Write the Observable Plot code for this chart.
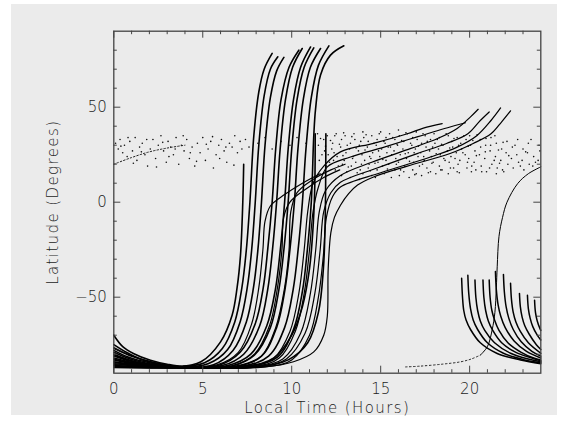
<!DOCTYPE html>
<html><head><meta charset="utf-8">
<script src="https://cdn.jsdelivr.net/npm/d3@7"></script>
<script src="https://cdn.jsdelivr.net/npm/@observablehq/plot@0.6"></script>
<style>
body{margin:0;background:#fff;width:565px;height:425px;overflow:hidden;position:relative;font-family:"DejaVu Sans",sans-serif}
#bg{position:absolute;left:11px;top:4px;width:546px;height:411px;background:#ebebeb}
#chart{position:absolute;left:0;top:0}
#chart text{font-weight:200}
</style></head><body><div id="bg"></div><div id="chart"></div>
<script>
// ---- tick values ----
const xLabelTicks = [0, 5, 10, 15, 20];
const xMinorTicks = [1,2,3,4,6,7,8,9,11,12,13,14,16,17,18,19,21,22,23];
const yLabelTicks = [-50, 0, 50];
const yMinorTicks = [-80,-70,-60,-40,-30,-20,-10,10,20,30,40,60,70,80];

// ---- trajectories that rise to high northern latitude ([local time h, latitude deg]) ----
const riseCurves = [
  [[0,-84],[1.5,-86],[3.5,-86.8],[4.9,-84],[6.0,-73.5],[6.65,-59.5],[6.93,-45],[7.12,-28],[7.25,0],[7.3,20]],
  [[0,-70],[0.5,-76],[1.1,-79.6],[2.06,-83.2],[3.0,-85.3],[3.9,-86.3],[5.1,-84.5],[6.1,-77],[6.8,-63],[7.2,-45],[7.45,-25],[7.65,0],[7.87,35],[8.15,58],[8.45,70],[8.9,78.3]],
  [[0,-80],[1,-83.5],[2,-85.5],[3.5,-86.8],[5.3,-85],[6.4,-77.5],[7.1,-63],[7.5,-45],[7.75,-25],[7.95,0],[8.15,30],[8.45,56],[8.8,70],[9.22,76.5]],
  [[0,-86],[1.5,-86.5],[3.5,-87],[5.6,-85.5],[6.7,-78],[7.45,-63],[7.85,-45],[8.1,-25],[8.3,0],[8.5,30],[8.8,55],[9.15,69],[9.56,76.2]],
  [[0,-75],[0.7,-79],[1.5,-82.5],[2.5,-85],[3.5,-86.5],[5.9,-85.8],[7.1,-79],[7.95,-64],[8.4,-45],[8.65,-25],[8.9,0],[9.1,28],[9.4,54],[9.85,71],[10.4,80]],
  [[0,-83],[1.5,-85.5],[3.5,-86.8],[6.1,-86],[7.3,-80],[8.2,-65],[8.65,-46],[8.92,-25],[9.15,0],[9.35,28],[9.65,54],[10.05,71],[10.59,80.9]],
  [[0,-81],[1.3,-84.5],[3.5,-86.7],[6.4,-86],[7.7,-80],[8.6,-65],[9.08,-46],[9.36,-25],[9.6,0],[9.8,28],[10.1,54],[10.5,71],[11.06,81.7]],
  [[0,-87],[3.5,-87.2],[6.6,-86.3],[7.9,-80.5],[8.8,-66],[9.28,-46],[9.56,-25],[9.8,0],[10.0,28],[10.3,54],[10.7,71],[11.24,81.2]],
  [[0,-78],[0.8,-81.5],[2,-84.5],[3.5,-86.6],[6.9,-86.2],[8.3,-81],[9.15,-66],[9.62,-46],[9.9,-25],[10.15,0],[10.35,28],[10.65,54],[11.05,71],[11.62,80.9]],
  [[0,-85],[2,-86.3],[3.5,-87],[7.2,-86.4],[8.7,-81],[9.6,-66],[10.08,-46],[10.36,-25],[10.6,0],[10.8,28],[11.1,55],[11.5,72],[12.09,82.3]],
  [[0,-82],[1.5,-85.2],[3.5,-86.9],[7.6,-86.4],[9.2,-81.5],[10.1,-67],[10.6,-47],[10.88,-25],[11.1,0],[11.24,35],[11.34,49],[11.62,67],[12.18,77.4],[12.93,82.3]],
  [[0,-79],[1,-82.8],[2.2,-85.3],[3.5,-86.6],[7.4,-86.4],[9,-82],[10.0,-70],[10.6,-55],[11.0,-35],[11.22,-10],[11.3,10],[11.32,36]],
  [[0,-86.5],[3.5,-87.2],[8.1,-86.6],[9.8,-83],[10.9,-74],[11.5,-58],[11.78,-35],[11.88,-10],[11.92,36]]
];

// ---- trajectories that turn eastward at low latitude ----
const bendCurves = [
  [[0,-86.8],[3.5,-87.1],[5.8,-85.6],[7.0,-79],[7.75,-64],[8.15,-45],[8.38,-25],[8.5,-10],[8.8,-2],[9.6,4],[10.6,10],[11.6,15]],
  [[0,-77],[1.1,-81.5],[2.4,-84.8],[3.5,-86.5],[6.7,-86],[7.9,-80],[8.75,-65],[9.2,-45],[9.45,-25],[9.55,-8],[9.9,0],[10.8,7],[11.8,13],[12.7,17]],
  [[0,-84.5],[3.5,-86.9],[7.0,-86.3],[8.3,-81],[9.1,-66],[9.6,-45],[9.85,-25],[9.95,-5],[10.3,5],[11.2,12],[12.2,17],[13,20]],
  [[0,-84.2],[3.5,-86.9],[7.7,-86.5],[9.0,-82],[9.9,-68],[10.4,-48],[10.7,-25],[10.9,-5],[11.2,10],[11.8,19],[12.74,26.5],[14.6,31],[16.5,36],[17.4,39],[18.46,41.4]],
  [[0,-80.5],[1.4,-84.5],[3.5,-86.7],[7.9,-86.5],[9.3,-82],[10.2,-68],[10.7,-48],[11.0,-25],[11.2,-5],[11.5,8],[12.0,18.6],[13.3,23.8],[15.2,29],[17.05,34.4],[18.9,39.6],[19.77,41.8]],
  [[0,-85.5],[3.5,-87],[8.0,-86.6],[9.5,-82.5],[10.5,-69],[11.05,-48],[11.35,-25],[11.55,-5],[11.9,6],[12.74,14],[14.5,21],[16.7,28.3],[18.2,33.5],[19.3,38.8],[20.05,44.9],[20.48,48.9]],
  [[0,-76.5],[0.9,-80.5],[2.2,-84.3],[3.5,-86.4],[8.2,-86.6],[9.7,-82.5],[10.75,-69],[11.3,-48],[11.6,-25],[11.8,-5],[12.2,5],[12.74,10.5],[14.8,18],[17.05,25.6],[18.7,30.9],[19.9,36],[20.6,43],[21.1,47.5]],
  [[0,-86.2],[3.5,-87.1],[8.5,-86.7],[10.0,-83],[11.0,-70],[11.5,-50],[11.78,-28],[11.95,-8],[12.3,3],[12.74,8],[15,15.5],[17.8,23.8],[19.3,29],[20.4,35],[21.2,43],[21.74,49.6]],
  [[0,-82.6],[1.5,-85.4],[3.5,-86.8],[8.6,-86.6],[10.1,-84],[11.24,-78.8],[11.8,-70],[12.0,-60],[12.05,-35],[12.2,-16],[12.4,-8],[12.74,-1.6],[13.2,4.5],[13.7,9],[14.6,13.3],[16.5,19],[18.9,25.6],[20.2,30.9],[21.2,36],[21.8,42.3],[22.3,48.1]]
];

// ---- evening trajectories descending toward the south pole ----
const nightCurves = [
  [[19.55,-40],[19.6,-50],[19.67,-57],[19.8,-62],[20.05,-67],[20.6,-74],[21.55,-79.6],[22.86,-83],[24,-85]],
  [[19.9,-38.5],[19.95,-48],[20.05,-56],[20.2,-62],[20.45,-67],[21.0,-74],[21.9,-79.5],[23.1,-83],[24,-84.5]],
  [[20.3,-41],[20.35,-50],[20.45,-57],[20.6,-62.5],[20.85,-67.5],[21.4,-74],[22.3,-79.5],[23.4,-82.8],[24,-84]],
  [[20.75,-41],[20.8,-50],[20.9,-57],[21.05,-62.5],[21.3,-67.5],[21.8,-74],[22.6,-79],[23.5,-82],[24,-83.5]],
  [[21.1,-41],[21.15,-50],[21.25,-57],[21.4,-62],[21.65,-67.5],[22.15,-74],[22.9,-79],[23.6,-82],[24,-83]],
  [[21.45,-36.5],[21.5,-46],[21.6,-54],[21.75,-60],[22.0,-66],[22.5,-73],[23.2,-78.5],[24,-82]],
  [[21.9,-38],[21.95,-47],[22.05,-55],[22.2,-61],[22.45,-67],[22.9,-73.5],[23.5,-78.5],[24,-81]],
  [[22.3,-42.7],[22.35,-51],[22.45,-58],[22.6,-63],[22.85,-68],[23.3,-74],[24,-79.5]],
  [[22.8,-48],[22.85,-55],[22.95,-60.5],[23.1,-65],[23.35,-69.5],[23.75,-75],[24,-77.5]],
  [[23.25,-49],[23.3,-56],[23.4,-61],[23.55,-65.5],[23.8,-70],[24,-72.5]],
  [[23.65,-51.6],[23.7,-58],[23.8,-62.5],[23.95,-66.5],[24,-67.5]]
];

// ---- single late trajectory: faint (dotted) part, then solid climb ----
const lateFaint = [[16.4,-86.7],[17.2,-86.3],[18.5,-85.2],[19.5,-84],[20.1,-82.5],[20.6,-80.5]];
const lateSolid = [[20.6,-80.5],[21.0,-76],[21.27,-67],[21.42,-58],[21.5,-45],[21.55,-34],[21.65,-18],[21.85,-8],[22.1,0],[22.7,9.8],[23.3,15],[24,18.6]];
const earlyFaint = [[0,20],[1,23.5],[2,26.5],[3,28.5],[4,30]];

// ---- scattered particle positions ----
const scatterDots = [
[0.1,31],[0.25,28],[0.35,33],[0.5,26],[0.6,30],[0.75,24],[0.9,32],[1.05,27],[1.2,34],[1.3,22],[1.45,29],[1.6,31],[1.75,25],[1.9,19],[2.05,28],[2.2,33],[2.35,23],[2.5,30],[2.65,35],[2.8,27],[2.95,21],[3.05,32],[3.2,29],[3.35,25],[3.5,34],[3.65,20],[3.8,30],[3.95,27],[4.1,33],[4.25,23],[4.4,29],[4.55,19],[4.7,31],[4.85,26],[5.0,34],[5.15,22],[5.3,28],[5.45,32],[5.6,18],[5.75,25],[5.9,30],[6.05,33],[6.2,27],[6.35,21],[6.5,31],[6.65,29],[6.8,35],[6.95,26],[7.1,32],
[0.4,29.5],[0.8,34],[1.1,20.5],[1.55,26.5],[1.85,33],[2.4,18.5],[2.75,31.5],[3.1,24],[3.45,28],[3.9,35],[4.3,26],[4.65,21.5],[5.2,30.5],[5.55,34.5],[5.95,23],[6.3,29],[6.75,19.5],[7.2,28],
[7.4,33],[7.6,29],[8.1,31],[8.5,34],[8.9,28],[9.4,32],[9.9,30],[10.3,34],[10.8,31],
[11.45,36],[11.5,30],[11.55,22],[11.8,33],[11.85,27],[12.0,35],[12.05,25],[11.95,19],[12.3,31],[12.25,28],[12.35,22],[12.5,36],[12.55,24],[12.45,17],[12.8,33],[12.75,29],[12.85,20],[12.8,14],[13.0,35],[13.05,26],[12.95,22],[13.1,16],[13.3,31],[13.25,28],[13.35,19],[13.3,13],[13.5,36],[13.55,33],[13.45,24],[13.6,21],[13.8,30],[13.75,27],[13.85,17],[13.8,12],[14.0,37],[14.05,34],[13.95,25],[14.1,22],[14.0,15],[14.3,32],[14.25,29],[14.35,20],[14.3,18],[14.5,35],[14.55,26],[14.45,23],[14.5,14],[14.8,33],[14.75,30],[14.85,21],[14.8,17],[14.7,13],[15.0,37],[15.05,28],[14.95,24],[15.1,19],[15.3,34],[15.25,31],[15.35,26],[15.3,22],[15.2,15],[15.5,36],[15.55,29],[15.45,20],[15.6,13],[15.8,33],[15.75,27],[15.85,23],[15.8,17],[16.0,38],[16.05,35],[15.95,30],[16.1,25],[16.0,21],[16.05,14],[16.3,32],[16.25,28],[16.35,19],[16.3,16],[16.5,36],[16.55,26],[16.45,23],[16.6,13],[16.8,34],[16.75,30],[16.85,21],[16.8,17],[17.0,37],[17.05,33],[16.95,28],[17.1,24],[17.0,15],[17.3,31],[17.25,26],[17.35,20],[17.3,14],[17.5,35],[17.55,29],[17.45,22],[17.6,18],[17.8,33],[17.75,27],[17.85,24],[17.8,16],[18.0,36],[18.05,31],[17.95,21],[18.1,15],[18.3,34],[18.25,28],[18.35,25],[18.3,19],[18.5,30],[18.55,23],[18.45,17],[18.8,35],[18.75,27],[18.85,21],[18.8,15],[19.0,32],[19.05,29],[18.95,24],[19.1,18],[19.3,34],[19.25,26],[19.35,20],[19.3,16],[19.5,31],[19.55,28],[19.45,22],[19.8,33],[19.75,25],[19.85,18],[20.0,35],[20.05,30],[19.95,23],[20.1,16],[20.3,27],[20.25,21],[20.35,17],[20.6,33],[20.55,25],[20.65,19],[20.9,30],[20.85,23],[20.95,16],[21.2,34],[21.15,27],[21.25,20],[21.5,31],[21.45,24],[21.55,18],[21.5,15],[21.8,28],[21.75,22],[21.85,17],[22.1,32],[22.05,26],[22.15,20],[22.4,29],[22.35,23],[22.45,18],[22.7,33],[22.65,25],[22.75,21],[23.0,28],[22.95,22],[23.05,17],[23.3,31],[23.25,26],[23.35,20],[23.6,24],[23.55,19],[23.9,30],[23.85,22],
[11.62,33.5],[11.7,25],[11.9,29.5],[12.12,21],[12.18,32.5],[12.38,26],[12.42,35],[12.62,19],[12.68,30.5],[12.88,24.5],[12.92,36.5],[13.12,30],[13.18,18.5],[13.38,34.5],[13.42,23],[13.62,28.5],[13.68,15.5],[13.88,32],[13.92,20],[14.12,27.5],[14.18,35.5],[14.38,24],[14.42,16.5],[14.62,31],[14.68,20.5],[14.88,27],[14.92,36],[15.12,22.5],[15.18,32],[15.38,17.5],[15.42,29],[15.62,25],[15.68,34],[15.88,20],[15.92,30.5],[16.12,17],[16.18,32.5],[16.38,25.5],[16.42,36.5],[16.62,21.5],[16.68,31],[16.88,26],[16.92,14.5],[17.12,29.5],[17.18,19],[17.38,36],[17.42,24],[17.62,32],[17.68,15.5],[17.88,20.5],[17.92,29],[18.12,25.5],[18.18,33],[18.38,17],[18.42,30.5],[18.62,22],[18.68,36],[18.88,28.5],[18.92,18],[19.12,33.5],[19.18,23],[19.38,30],[19.42,15.5],[19.62,26],[19.68,35],[19.88,21],[19.92,29.5],[20.12,19],[20.18,32.5],[20.38,24.5],[20.42,35.5],[20.62,29],[20.68,16],[20.88,26.5],[20.92,33.5],[21.12,18],[21.18,30],[21.38,22],[21.42,35],[21.62,27.5],[21.68,20.5],[21.88,31.5],[21.92,16],[22.2,24.5],[22.55,30],[22.85,19],[23.15,26.5],[23.45,33],[23.7,21],[23.95,27]
];

// ---- layout ----
const W = 565, H = 425, mL = 113.3, mR = 24.7, mT = 30.7, mB = 52.3;
const innerW = W - mL - mR, innerH = H - mT - mB;
const major = 7, minor = 3.5;
const rows = curves => curves.flatMap((c, i) => c.map(([h, lat]) => ({h, lat, id: i})));
const ink = "#000", axisInk = "#444", textInk = "#1c1c1c";

const chart = Plot.plot({
  width: W, height: H,
  marginLeft: mL, marginRight: mR, marginTop: mT, marginBottom: mB,
  x: {domain: [0, 24], label: null},
  y: {domain: [-90, 90], label: null},
  style: {background: "transparent", color: axisInk, fontFamily: "'DejaVu Sans', sans-serif", fontSize: "15px"},
  marks: [
    Plot.dot(scatterDots, {x: d => d[0], y: d => d[1], r: 0.8, fill: "#111", stroke: null}),
    Plot.line(earlyFaint, {x: d => d[0], y: d => d[1], curve: "catmull-rom", stroke: "#222", strokeWidth: 1, strokeDasharray: "1.5,2"}),
    Plot.line(lateFaint, {x: d => d[0], y: d => d[1], curve: "catmull-rom", stroke: "#222", strokeWidth: 1, strokeDasharray: "1.5,2.5"}),
    Plot.line(lateSolid, {x: d => d[0], y: d => d[1], curve: "catmull-rom", stroke: ink, strokeWidth: 1}),
    Plot.line(rows(riseCurves), {x: "h", y: "lat", z: "id", curve: "catmull-rom", stroke: ink, strokeWidth: 1.6}),
    Plot.line(rows(bendCurves), {x: "h", y: "lat", z: "id", curve: "catmull-rom", stroke: ink, strokeWidth: 1.2}),
    Plot.line(rows(nightCurves), {x: "h", y: "lat", z: "id", curve: "catmull-rom", stroke: ink, strokeWidth: 1.5}),
    // inward ticks on all four sides
    Plot.tickX(xLabelTicks, {x: d => d, insetTop: innerH - major, stroke: axisInk}),
    Plot.tickX(xMinorTicks, {x: d => d, insetTop: innerH - minor, stroke: axisInk}),
    Plot.tickX(xLabelTicks, {x: d => d, insetBottom: innerH - major, stroke: axisInk}),
    Plot.tickX(xMinorTicks, {x: d => d, insetBottom: innerH - minor, stroke: axisInk}),
    Plot.tickY(yLabelTicks, {y: d => d, insetRight: innerW - major, stroke: axisInk}),
    Plot.tickY(yMinorTicks, {y: d => d, insetRight: innerW - minor, stroke: axisInk}),
    Plot.tickY(yLabelTicks, {y: d => d, insetLeft: innerW - major, stroke: axisInk}),
    Plot.tickY(yMinorTicks, {y: d => d, insetLeft: innerW - minor, stroke: axisInk}),
    Plot.frame({stroke: axisInk, strokeWidth: 1.3}),
    Plot.axisX(xLabelTicks, {anchor: "bottom", tickSize: 0, tickPadding: 10, fontSize: 15, label: null, fill: textInk}),
    Plot.axisY(yLabelTicks, {anchor: "left", tickSize: 0, tickPadding: 7, fontSize: 15, label: null, fill: textInk}),
    Plot.text(["Local Time (Hours)"], {frameAnchor: "bottom", dy: 35, lineAnchor: "middle", textAnchor: "middle", fontSize: 15, fill: textInk}),
    Plot.text(["Latitude (Degrees)"], {frameAnchor: "left", dx: -61, rotate: -90, lineAnchor: "middle", textAnchor: "middle", fontSize: 15, fill: textInk})
  ]
});
chart.querySelectorAll("text").forEach(t => {
  if (t.textContent.includes("(")) t.setAttribute("letter-spacing", "1.4");
});
document.getElementById("chart").appendChild(chart);
</script></body></html>
